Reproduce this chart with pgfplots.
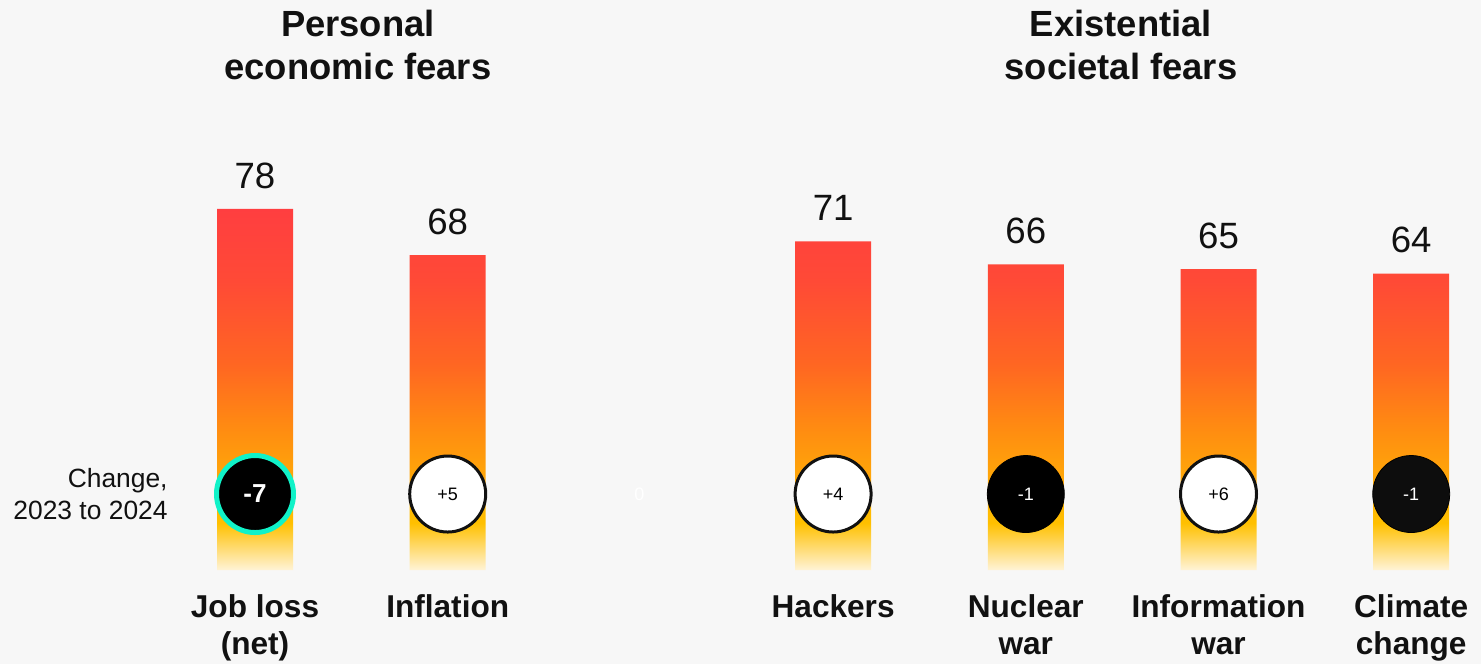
\documentclass[border=0pt]{standalone}
\usepackage{fontspec}
\setmainfont{Liberation Sans}
\usepackage{pgfplots}
\pgfplotsset{compat=1.18}
\definecolor{bgc}{HTML}{F7F7F7}
\definecolor{txt}{HTML}{111111}
\definecolor{teal}{HTML}{10F2C8}
\definecolor{cA}{HTML}{FFF3D6}
\definecolor{cB}{HTML}{FFC000}
\definecolor{cC}{HTML}{FF8A12}
\definecolor{cD}{HTML}{FF6622}
\definecolor{cE}{HTML}{FF4A36}
\definecolor{cF}{HTML}{FF3E40}
\pgfdeclareverticalshading{barshade}{100bp}{color(0bp)=(cA); color(25bp)=(cA); color(31.5bp)=(cB); color(45bp)=(cC); color(53.5bp)=(cD); color(65bp)=(cE); color(75bp)=(cF); color(100bp)=(cF)}
\newcommand\fs[2]{\fontsize{#1}{#2}\selectfont}
\pgfplotstableread{
x y
0 78
1 68
3 71
4 66
5 65
6 64
}\bars
\pgfplotstableread{
x y label
1 16.41 +5
3 16.41 +4
5 16.41 +6
}\whitec
\pgfplotstableread{
x y label
4 16.41 -1
}\blackc
\pgfplotstableread{
x y label
6 16.41 -1
}\blackd
\pgfplotstableread{
x y label
0 16.41 -7
}\tealc
\tikzset{catlab/.style={anchor=north, align=center, inner sep=0pt, font=\bfseries\fs{15.8bp}{18.5bp}, text=txt}}
\begin{document}
\begin{tikzpicture}
\fill[bgc] (0,0) rectangle (740.5bp,332bp);
\begin{axis}[
  at={(0,0)}, anchor=south west,
  scale only axis, width=740.5bp, height=332bp,
  xmin=-1.3233, xmax=6.3622, ymin=-20.30, ymax=123.11,
  hide axis, clip=false,
  /pgf/number format/assume math mode=true,
]
\addplot[ybar, bar width=38bp, draw=none, shading=barshade,
  nodes near coords,
  every node near coord/.append style={font=\fs{18.3bp}{20bp}, text=txt, inner sep=0pt, yshift=10bp, anchor=south}]
  table[x=x,y=y] {\bars};
\addplot[only marks, mark=*, mark size=19bp,
  mark options={fill=white, draw=txt, line width=1.5bp},
  point meta=explicit symbolic, nodes near coords,
  every node near coord/.append style={anchor=center, font=\fs{9bp}{10bp}, text=black, inner sep=0pt}]
  table[x=x,y=y,meta=label] {\whitec};
\addplot[only marks, mark=*, mark size=19.25bp,
  mark options={fill=black, draw=none},
  point meta=explicit symbolic, nodes near coords,
  every node near coord/.append style={anchor=center, font=\fs{9bp}{10bp}, text=white, inner sep=0pt}]
  table[x=x,y=y,meta=label] {\blackc};
\addplot[only marks, mark=*, mark size=19.25bp,
  mark options={fill=black!95, draw=none},
  point meta=explicit symbolic, nodes near coords,
  every node near coord/.append style={anchor=center, font=\fs{9bp}{10bp}, text=white, inner sep=0pt}]
  table[x=x,y=y,meta=label] {\blackd};
\addplot[only marks, mark=*, mark size=19.25bp,
  mark options={fill=black, draw=teal, line width=2.5bp},
  point meta=explicit symbolic, nodes near coords,
  every node near coord/.append style={anchor=center, font=\bfseries\fs{13bp}{14bp}, text=white, inner sep=0pt}]
  table[x=x,y=y,meta=label] {\tealc};
% faint placeholder label
\node[text=white, font=\fs{9bp}{10bp}] at (axis cs:1.995,16.41) {0};
% titles
\node[anchor=north, align=center, inner sep=0pt, font=\bfseries\fs{18.2bp}{21.5bp}, text=txt] at (axis cs:0.534,120.95) {Personal\\economic fears};
\node[anchor=north, align=center, inner sep=0pt, font=\bfseries\fs{18.2bp}{21.5bp}, text=txt] at (axis cs:4.494,120.95) {Existential\\societal fears};
% change label
\node[anchor=east, align=right, inner sep=0pt, font=\fs{13.2bp}{16bp}, text=txt] at (axis cs:-0.4515,16.41) {Change,\\2023 to 2024};
% category labels
\node[catlab] at (axis cs:0,-5.18) {Job loss\\(net)};
\node[catlab] at (axis cs:1,-5.18) {Inflation};
\node[catlab] at (axis cs:3,-5.18) {Hackers};
\node[catlab] at (axis cs:4,-5.18) {Nuclear\\war};
\node[catlab] at (axis cs:5,-5.18) {Information\\war};
\node[catlab] at (axis cs:6,-5.18) {Climate\\change};
\end{axis}
\end{tikzpicture}
\end{document}
